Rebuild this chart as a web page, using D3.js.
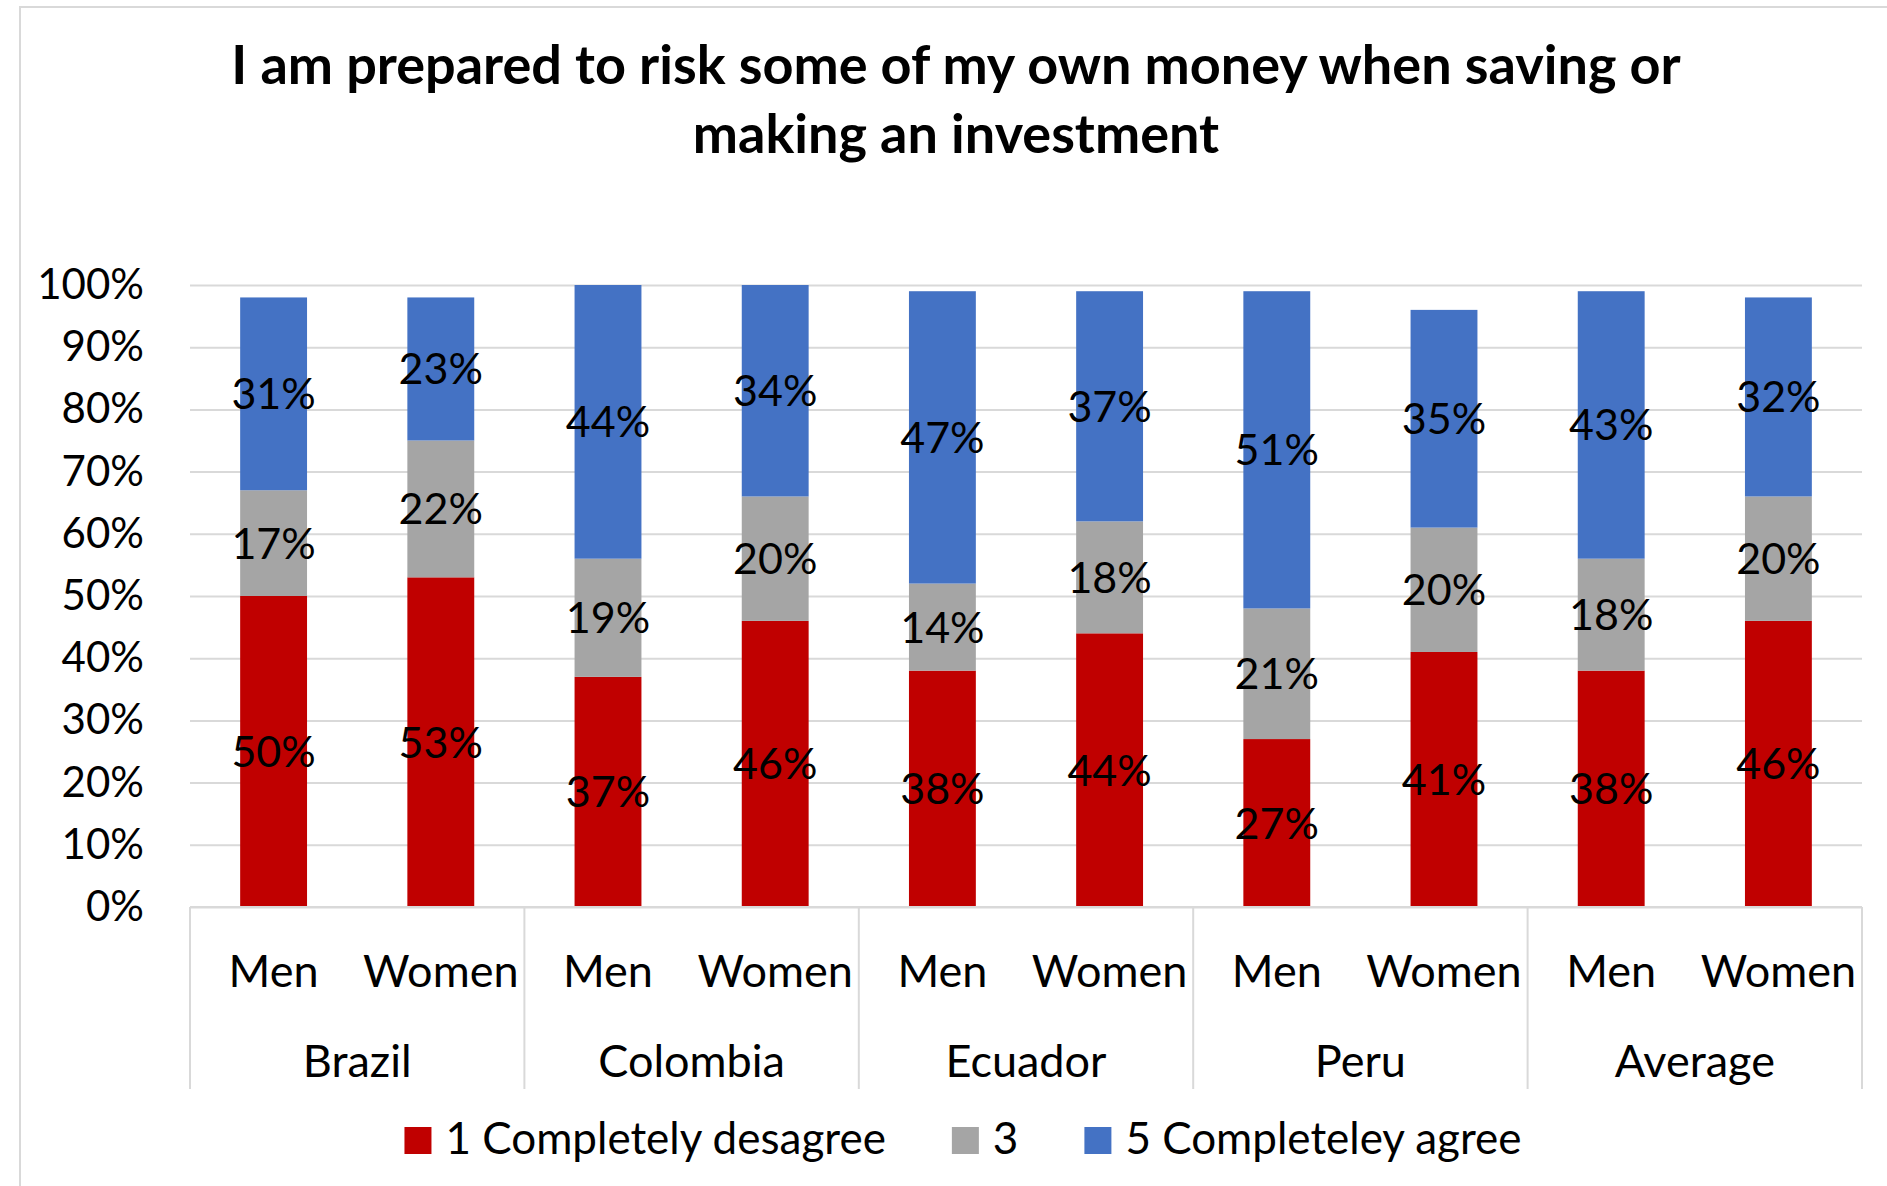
<!DOCTYPE html>
<html>
<head>
<meta charset="utf-8">
<script src="https://cdn.jsdelivr.net/npm/d3@7"></script>
<style>
  body { margin: 0; background: #fff; }
  text { font-family: Lato, "Open Sans", sans-serif; fill: #000; }
</style>
</head>
<body>
<svg id="chart" width="1887" height="1186"></svg>
<script>
// Survey answers by country and gender (share of respondents, %)
const countries = ["Brazil", "Colombia", "Ecuador", "Peru", "Average"];
const genders = ["Men", "Women"];
const seriesNames = ["1 Completely desagree", "3", "5 Completeley agree"];
const disagree = [50, 53, 37, 46, 38, 44, 27, 41, 38, 46];
const neutral  = [17, 22, 19, 20, 14, 18, 21, 20, 18, 20];
const agree    = [31, 23, 44, 34, 47, 37, 51, 35, 43, 32];
const yTicks = [0, 10, 20, 30, 40, 50, 60, 70, 80, 90, 100];
const titleLines = [
  "I am prepared to risk some of my own money when saving or",
  "making an investment"
];

const colors = ["#c00000", "#a5a5a5", "#4472c4"];
const gridColor = "#d9d9d9";

const svg = d3.select("#chart");
const plot = { left: 190, right: 1862, top: 285, bottom: 907 };

// Chart frame
svg.append("rect")
  .attr("x", 20).attr("y", 7)
  .attr("width", 1920).attr("height", 1220)
  .attr("fill", "#fff")
  .attr("stroke", gridColor).attr("stroke-width", 2);

// Title
svg.append("g").selectAll("text")
  .data(titleLines).join("text")
  .attr("x", 956)
  .attr("y", (d, i) => 84 + i * 69)
  .attr("text-anchor", "middle")
  .attr("font-size", 54)
  .attr("font-weight", "bold")
  .text(d => d);

// Rows: one per country/gender pair
const rows = [];
countries.forEach((c, ci) => genders.forEach((g, gi) => {
  const k = ci * genders.length + gi;
  rows.push({ key: c + "|" + g, country: c, gender: g,
              s0: disagree[k], s1: neutral[k], s2: agree[k] });
}));

const x = d3.scaleBand()
  .domain(rows.map(r => r.key))
  .range([plot.left, plot.right])
  .paddingInner(0.6)
  .paddingOuter(0.3);

const xGroup = d3.scaleBand()
  .domain(countries)
  .range([plot.left, plot.right]);

const y = d3.scaleLinear().domain([0, 100]).range([plot.bottom, plot.top]);

// Horizontal gridlines and percentage ticks
const yAxis = d3.axisLeft(y)
  .tickValues(yTicks)
  .tickSize(-(plot.right - plot.left))
  .tickFormat(d => d + "%")
  .tickPadding(46);
const yg = svg.append("g")
  .attr("transform", `translate(${plot.left},0)`)
  .call(yAxis);
yg.select(".domain").remove();
yg.selectAll(".tick line").attr("stroke", gridColor).attr("stroke-width", 2);
yg.selectAll(".tick text")
  .attr("font-size", 42)
  .attr("font-family", "Lato, sans-serif")
  .attr("fill", "#000");

// Stacked bars
const stack = d3.stack().keys(["s0", "s1", "s2"]);
const layers = stack(rows);

const layerG = svg.append("g").selectAll("g")
  .data(layers).join("g")
  .attr("fill", (d, i) => colors[i]);

layerG.selectAll("rect")
  .data(d => d).join("rect")
  .attr("x", d => x(d.data.key))
  .attr("width", x.bandwidth())
  .attr("y", d => y(d[1]))
  .attr("height", d => y(d[0]) - y(d[1]));

// Value labels, centred in each segment
layerG.selectAll("text")
  .data(d => d).join("text")
  .attr("x", d => x(d.data.key) + x.bandwidth() / 2)
  .attr("y", d => y((d[0] + d[1]) / 2))
  .attr("dy", "0.36em")
  .attr("text-anchor", "middle")
  .attr("font-size", 43)
  .text(d => (d[1] - d[0]) + "%");

// Category axis: baseline, group separators, two label levels
const axisG = svg.append("g");
axisG.append("line")
  .attr("x1", plot.left).attr("x2", plot.right)
  .attr("y1", plot.bottom).attr("y2", plot.bottom)
  .attr("stroke", gridColor).attr("stroke-width", 2);

const sepX = countries.map(c => xGroup(c)).concat([plot.right]);
axisG.selectAll("line.sep")
  .data(sepX).join("line")
  .attr("class", "sep")
  .attr("x1", d => d).attr("x2", d => d)
  .attr("y1", plot.bottom).attr("y2", 1089)
  .attr("stroke", gridColor).attr("stroke-width", 2);

axisG.selectAll("text.gender")
  .data(rows).join("text")
  .attr("class", "gender")
  .attr("x", d => x(d.key) + x.bandwidth() / 2)
  .attr("y", 987)
  .attr("text-anchor", "middle")
  .attr("font-size", 45)
  .text(d => d.gender);

axisG.selectAll("text.country")
  .data(countries).join("text")
  .attr("class", "country")
  .attr("x", d => xGroup(d) + xGroup.bandwidth() / 2)
  .attr("y", 1077)
  .attr("text-anchor", "middle")
  .attr("font-size", 45)
  .text(d => d);

// Legend, centred below the axis
const legend = svg.append("g");
const items = legend.selectAll("g")
  .data(seriesNames).join("g");
items.append("rect")
  .attr("width", 27).attr("height", 27)
  .attr("y", 1127)
  .attr("fill", (d, i) => colors[i]);
items.append("text")
  .attr("x", 41)
  .attr("y", 1154)
  .attr("font-size", 44)
  .text(d => d);

const itemGap = 66;
let cursor = 0;
const offsets = [];
items.each(function () {
  const w = 41 + this.querySelector("text").getComputedTextLength();
  offsets.push(cursor);
  cursor += w + itemGap;
});
const total = cursor - itemGap;
const start = 963 - total / 2;
items.attr("transform", (d, i) => `translate(${start + offsets[i]},0)`);
</script>
</body>
</html>
